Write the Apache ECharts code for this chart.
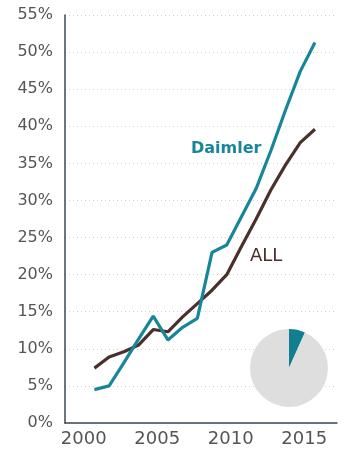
<!DOCTYPE html>
<html>
<head>
<meta charset="utf-8">
<script src="https://cdn.jsdelivr.net/npm/echarts@6/dist/echarts.min.js"></script>
<style>
  html, body { margin: 0; padding: 0; background: #fff; }
  #chart { width: 351px; height: 450px; }
</style>
</head>
<body>
<div id="chart"></div>
<script>
const years = [2001, 2002, 2003, 2004, 2005, 2006, 2007, 2008, 2009, 2010, 2011, 2012, 2013, 2014, 2015, 2016];
const daimler = [4.5, 5.0, 8.1, 11.3, 14.4, 11.2, 12.9, 14.1, 23.0, 24.0, 27.8, 31.6, 36.7, 42.2, 47.4, 51.3];
const all = [7.4, 8.9, 9.6, 10.5, 12.6, 12.3, 14.3, 16.1, 17.9, 20.0, 23.8, 27.5, 31.4, 34.8, 37.8, 39.6];
const xTicks = [2000, 2005, 2010, 2015];
const pieShare = [6.7, 93.3];

const TEAL = "#18869a";
const BROWN = "#4a2f2b";
const FONT = "DejaVu Sans";

const chart = echarts.init(document.getElementById("chart"));

chart.setOption({
  animation: false,
  grid: { left: 65, right: 14, top: 15, bottom: 27 },
  xAxis: {
    type: "value",
    min: 1999,
    max: 2017.5,
    axisLine: { show: true, lineStyle: { color: "#3b4850", width: 1.5 } },
    axisTick: { show: false },
    splitLine: { show: false },
    axisLabel: {
      customValues: xTicks,
      color: "#555",
      fontSize: 18,
      fontFamily: FONT,
      margin: 7,
      padding: [0, 0, 0, 8],
      formatter: (v) => String(v),
    },
  },
  yAxis: {
    type: "value",
    min: 0,
    max: 55,
    interval: 5,
    axisLine: { show: true, lineStyle: { color: "#3b4850", width: 1.5 } },
    axisTick: { show: false },
    axisLabel: {
      color: "#555",
      fontSize: 16,
      fontFamily: FONT,
      margin: 12,
      formatter: "{value}%",
    },
    splitLine: { lineStyle: { color: "#cfcfcf", type: [1, 3], width: 1 } },
  },
  series: [
    {
      name: "ALL",
      type: "line",
      data: years.map((y, i) => [y, all[i]]),
      showSymbol: false,
      lineStyle: { width: 3.2, color: BROWN },
      z: 3,
    },
    {
      name: "Daimler",
      type: "line",
      data: years.map((y, i) => [y, daimler[i]]),
      showSymbol: false,
      lineStyle: { width: 3.2, color: TEAL },
      z: 4,
    },
    {
      type: "pie",
      center: [289, 368],
      radius: 39,
      startAngle: 90,
      clockwise: true,
      silent: true,
      label: { show: false },
      labelLine: { show: false },
      data: [
        { value: pieShare[0], itemStyle: { color: "#117f91" } },
        { value: pieShare[1], itemStyle: { color: "#dedede" } },
      ],
    },
  ],
  graphic: [
    {
      type: "text",
      left: 191,
      top: 141,
      style: { text: "Daimler", fill: TEAL, font: "600 16px " + FONT },
    },
    {
      type: "text",
      left: 250,
      top: 247,
      style: { text: "ALL", fill: BROWN, font: "18px " + FONT },
    },
  ],
});
</script>
</body>
</html>
